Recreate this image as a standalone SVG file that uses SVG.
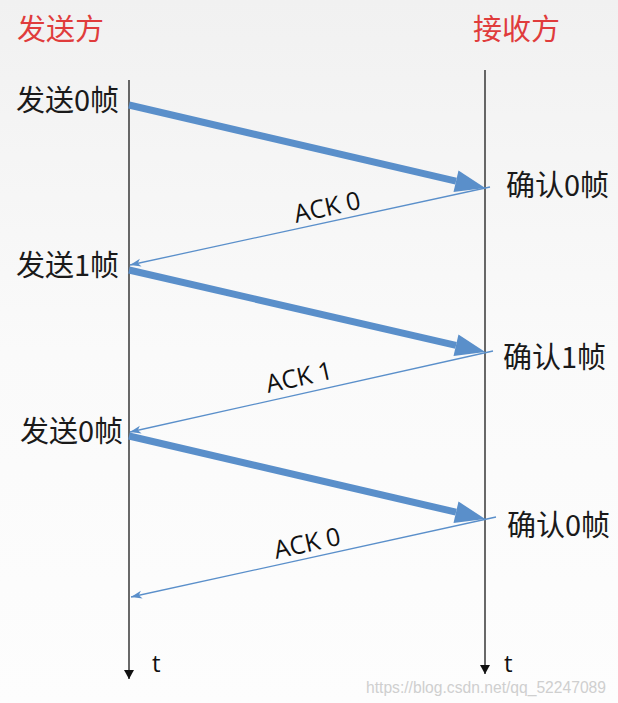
<svg xmlns="http://www.w3.org/2000/svg" width="618" height="703" viewBox="0 0 618 703">
<defs>
<linearGradient id="bg" x1="0" y1="0" x2="0" y2="1">
<stop offset="0" stop-color="#f1f1f1"/>
<stop offset="0.5" stop-color="#fafafa"/>
<stop offset="1" stop-color="#fdfdfd"/>
</linearGradient>
<marker id="thick" markerUnits="userSpaceOnUse" markerWidth="32" markerHeight="24" refX="0" refY="11" orient="auto" overflow="visible">
<path d="M0,0 L30,11 L0,22 z" fill="#5a8fca"/>
</marker>
<marker id="thin" markerUnits="userSpaceOnUse" markerWidth="12" markerHeight="10" refX="11" refY="4" orient="auto" overflow="visible">
<path d="M0,0 L11,4 L0,8 L3,4 z" fill="#5a8fca"/>
</marker>
<marker id="time" markerUnits="userSpaceOnUse" markerWidth="12" markerHeight="12" refX="5" refY="9" orient="0" overflow="visible">
<path d="M0,0 L10,0 L5,9 z" fill="#111"/>
</marker>
</defs>
<style>
.cn{font-family:"Noto Sans CJK SC","Liberation Sans",sans-serif;font-size:29px;fill:#1a1a1a}
.hd{font-family:"Noto Sans CJK SC","Liberation Sans",sans-serif;font-size:29px;fill:#e03c3c}
.ack{font-family:"Open Sans","Liberation Sans",sans-serif;font-size:25px;fill:#111}
.t{font-family:"Open Sans","Liberation Sans",sans-serif;font-size:24px;fill:#111}
.tl{stroke:#1a1a1a;stroke-width:1.3;fill:none}
.big{stroke:#5a8fca;stroke-width:7;fill:none}
.sm{stroke:#5a8fca;stroke-width:1.3;fill:none}
</style>
<rect width="618" height="703" fill="url(#bg)"/>
<g id="sender-title"><text class="hd" x="17" y="40">发送方</text></g>
<g id="receiver-title"><text class="hd" x="473" y="40">接收方</text></g>
<g id="sender-line"><line class="tl" x1="129" y1="80" x2="129" y2="679" marker-end="url(#time)"/><text class="t" x="152" y="672">t</text></g>
<g id="receiver-line"><line class="tl" x1="485" y1="70" x2="485" y2="674" marker-end="url(#time)"/><text class="t" x="504" y="672">t</text></g>
<g id="labels">
<text class="cn" x="16" y="111">发送0帧</text>
<text class="cn" x="506" y="196">确认0帧</text>
<text class="cn" x="16" y="276">发送1帧</text>
<text class="cn" x="503" y="368">确认1帧</text>
<text class="cn" x="20" y="442">发送0帧</text>
<text class="cn" x="507" y="536">确认0帧</text>
</g>
<g id="connectors">
<line class="big" x1="129" y1="105" x2="456" y2="181.2" marker-end="url(#thick)"/>
<line class="sm" x1="490" y1="187" x2="130" y2="265" marker-end="url(#thin)"/>
<line class="big" x1="129" y1="270" x2="456" y2="345.3" marker-end="url(#thick)"/>
<line class="sm" x1="493" y1="351" x2="130" y2="432" marker-end="url(#thin)"/>
<line class="big" x1="129" y1="436" x2="456" y2="512.2" marker-end="url(#thick)"/>
<line class="sm" x1="496" y1="517" x2="131" y2="597" marker-end="url(#thin)"/>
<text class="ack" transform="translate(296,223) rotate(-12.5)">ACK 0</text>
<text class="ack" transform="translate(268,393) rotate(-12.5)">ACK 1</text>
<text class="ack" transform="translate(276,559) rotate(-12.5)">ACK 0</text>
</g>
<text x="366" y="693" font-family="Liberation Sans, sans-serif" font-size="16" fill="#cfcfcf" textLength="240" lengthAdjust="spacingAndGlyphs">https://blog.csdn.net/qq_52247089</text>
</svg>
